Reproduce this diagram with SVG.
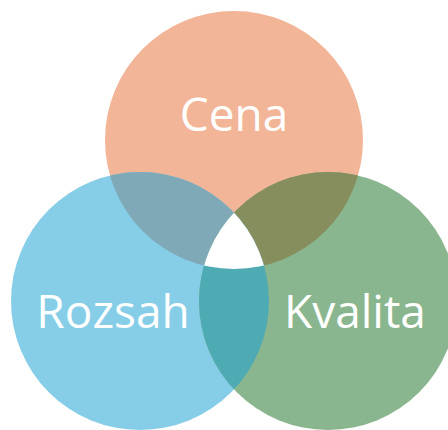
<svg xmlns="http://www.w3.org/2000/svg" width="448" height="430" viewBox="0 0 448 430">
<style>
.lbl{font-family:"Open Sans","Noto Sans","Liberation Sans",sans-serif;font-size:46px;fill:#ffffff;text-anchor:middle}
</style>
<defs>
<clipPath id="cTop"><circle cx="234" cy="140" r="129"/></clipPath>
<clipPath id="cLeft"><circle cx="140" cy="301" r="129"/></clipPath>
<clipPath id="cRight"><circle cx="328" cy="301" r="129"/></clipPath>
</defs>
<rect width="448" height="430" fill="#ffffff"/>
<g id="cena"><circle cx="234" cy="140" r="129" fill="#F3B597"/></g>
<g id="rozsah"><circle cx="140" cy="301" r="129" fill="#86CDE8"/></g>
<g id="kvalita"><circle cx="328" cy="301" r="129" fill="#8AB68F"/></g>
<g id="overlaps">
<g clip-path="url(#cTop)"><circle cx="140" cy="301" r="129" fill="#80A9B8"/></g>
<g clip-path="url(#cTop)"><circle cx="328" cy="301" r="129" fill="#868E5D"/></g>
<g clip-path="url(#cLeft)"><circle cx="328" cy="301" r="129" fill="#4EABB4"/></g>
<g clip-path="url(#cTop)"><g clip-path="url(#cLeft)"><circle cx="328" cy="301" r="129" fill="#ffffff"/></g></g>
</g>
<g id="labels">
<text class="lbl" x="234" y="131">Cena</text>
<text class="lbl" x="113" y="328">Rozsah</text>
<text class="lbl" x="355" y="328">Kvalita</text>
</g>
</svg>
